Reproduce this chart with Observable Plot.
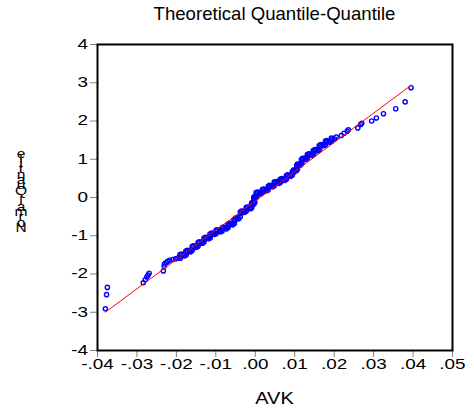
<!DOCTYPE html>
<html><head><meta charset="utf-8">
<script src="https://cdn.jsdelivr.net/npm/d3@7"></script>
<script src="https://cdn.jsdelivr.net/npm/@observablehq/plot@0.6"></script>
<style>
body{margin:0;background:#fff;}
#wrap{position:relative;width:474px;height:412px;font-family:"Liberation Sans",Arial,sans-serif;color:#000;}
#title{position:absolute;left:97px;width:355px;top:4.5px;text-align:center;font-size:18.6px;line-height:18.6px;z-index:2;}
#xlabel{position:absolute;left:97px;width:355px;top:391px;text-align:center;font-size:16px;line-height:16px;transform:scaleX(1.25);z-index:2;}
#wrap svg{position:absolute;left:0;top:0;}
</style></head><body><div id="wrap"></div>
<script>
const title = "Theoretical Quantile-Quantile";
const xLabel = "AVK";
const yLabel = "Normal Quantile";
const xTicks = [-0.04,-0.03,-0.02,-0.01,0,0.01,0.02,0.03,0.04,0.05];
const xTickLabels = ["-.04","-.03","-.02","-.01",".00",".01",".02",".03",".04",".05"];
const yTicks = [-4,-3,-2,-1,0,1,2,3,4];
const yTickLabels = ["-4","-3","-2","-1","0","1","2","3","4"];

// sample quantiles (AVK) and matching normal quantiles: tails and main band
const qx = [-0.0380,-0.0377,-0.0375,-0.0284,-0.0279,-0.0275,-0.0272,-0.0269,-0.0233,-0.0231,-0.0230,-0.0226,-0.0222,-0.0217,-0.0209,-0.0202,-0.0196,
-0.0189,-0.0181,-0.0174,-0.0166,-0.0158,-0.0151,-0.0143,-0.0136,-0.0128,-0.0120,-0.0113,-0.0105,-0.0097,-0.0090,-0.0082,-0.0075,-0.0067,-0.0059,-0.0052,-0.0044,-0.0036,-0.0029,-0.0021,-0.0014,
-0.0008,-0.0005,-0.0002,0.0000,0.0004,0.0012,0.0020,0.0027,0.0035,0.0042,0.0050,0.0058,0.0065,0.0073,0.0081,0.0088,0.0096,0.0102,0.0107,0.0112,
0.0119,0.0126,0.0134,0.0142,0.0149,0.0157,0.0164,0.0172,0.0180,0.0187,0.0195,
0.0201,0.0205,0.0218,0.0225,0.0233,0.0236,0.0260,0.0267,0.0270,0.0295,0.0307,0.0325,0.0356,0.0380,0.0395];
const qy = [-2.91,-2.54,-2.35,-2.23,-2.15,-2.08,-2.03,-1.98,-1.92,-1.80,-1.74,-1.70,-1.67,-1.64,-1.62,-1.60,-1.58,
-1.529,-1.490,-1.438,-1.386,-1.320,-1.268,-1.216,-1.163,-1.098,-1.046,-0.993,-0.928,-0.889,-0.863,-0.824,-0.784,-0.732,-0.680,-0.614,-0.523,-0.418,-0.353,-0.301,-0.261,
-0.209,-0.131,-0.052,0.026,0.092,0.131,0.170,0.209,0.261,0.314,0.366,0.405,0.444,0.484,0.536,0.588,0.641,0.732,0.810,0.876,
0.954,1.033,1.085,1.137,1.190,1.255,1.320,1.386,1.438,1.477,1.516,
1.53,1.58,1.62,1.68,1.73,1.77,1.82,1.91,1.94,2.00,2.08,2.19,2.32,2.50,2.87];

// further points read inside the dense central band (two more passes)
const bandX = [-0.0190,-0.0187,-0.0175,-0.0172,-0.0160,-0.0157,-0.0145,-0.0142,-0.0130,-0.0126,-0.0114,-0.0111,-0.0099,-0.0096,-0.0084,-0.0081,-0.0069,-0.0065,-0.0053,-0.0050,
-0.0038,-0.0035,-0.0023,-0.0020,-0.0009,-0.0009,-0.0001,-0.0003,0.0004,0.0006,0.0018,0.0021,0.0033,0.0036,0.0048,0.0052,0.0064,0.0067,0.0079,0.0082,
0.0094,0.0097,0.0107,0.0107,0.0118,0.0120,0.0132,0.0136,0.0148,0.0151,0.0163,0.0166,0.0178,0.0181,0.0193];
const bandY = [-1.585,-1.480,-1.494,-1.382,-1.383,-1.264,-1.272,-1.160,-1.161,-1.042,-1.050,-0.931,-0.939,-0.846,-0.874,-0.774,-0.788,-0.676,-0.677,-0.539,
-0.501,-0.356,-0.357,-0.251,-0.265,-0.140,-0.122,0.017,0.029,0.142,0.121,0.220,0.205,0.318,0.310,0.416,0.395,0.494,0.480,0.592,
0.585,0.717,0.741,0.873,0.885,1.024,1.029,1.141,1.134,1.253,1.258,1.383,1.382,1.488,1.467];
const band2X = [-0.0191,-0.0179,-0.0176,-0.0164,-0.0160,-0.0149,-0.0145,-0.0134,-0.0130,-0.0118,-0.0115,-0.0103,-0.0099,-0.0088,-0.0084,-0.0073,-0.0069,-0.0057,-0.0054,-0.0042,
-0.0038,-0.0027,-0.0023,-0.0012,-0.0010,-0.0003,-0.0004,0.0002,0.0002,0.0014,0.0018,0.0029,0.0033,0.0044,0.0048,0.0060,0.0063,0.0075,0.0079,0.0090,
0.0094,0.0104,0.0105,0.0114,0.0117,0.0128,0.0132,0.0144,0.0147,0.0159,0.0162,0.0174,0.0178,0.0189,0.0193];
const band2Y = [-1.494,-1.525,-1.403,-1.421,-1.285,-1.303,-1.181,-1.198,-1.063,-1.081,-0.958,-0.963,-0.854,-0.898,-0.789,-0.819,-0.697,-0.715,-0.579,-0.558,
-0.383,-0.388,-0.266,-0.296,-0.174,-0.166,-0.017,-0.009,0.127,0.096,0.205,0.174,0.296,0.279,0.401,0.370,0.479,0.449,0.571,0.553,
0.676,0.697,0.845,0.841,0.989,0.998,1.120,1.102,1.225,1.220,1.355,1.351,1.473,1.442,1.551];

// fitted reference line end points
const lineX = [-0.0380, 0.0396];
const lineY = [-3.00, 2.94];

const points = qx.map((x, i) => ({x, y: qy[i]}))
  .concat(bandX.map((x, i) => ({x, y: bandY[i]})))
  .concat(band2X.map((x, i) => ({x, y: band2Y[i]})));
const fit = lineX.map((x, i) => ({x, y: lineY[i]}));

const chart = Plot.plot({
  width: 474, height: 412,
  marginLeft: 97, marginRight: 22, marginTop: 44, marginBottom: 62,
  style: {fontFamily: '"Liberation Sans", Arial, sans-serif', fontSize: "14px", background: "white"},
  x: {domain: [-0.04, 0.05], label: null},
  y: {domain: [-4, 4], label: null},
  marks: [
    Plot.dot(points, {x: "x", y: "y", r: 2.1, stroke: "#0000ff", strokeWidth: 1.4, fill: "none"}),
    Plot.line(fit, {x: "x", y: "y", stroke: "#ff0000", strokeWidth: 1}),
    Plot.axisX({ticks: xTicks, tickSize: 7, tickPadding: 1.5, tickFormat: d => xTickLabels[xTicks.indexOf(d)], label: null, fontSize: 14, stroke: "#808080", fill: "#000"}),
    Plot.axisY({ticks: yTicks, tickSize: 7, tickPadding: 2.5, tickFormat: d => yTickLabels[yTicks.indexOf(d)], label: null, fontSize: 14, stroke: "#808080", fill: "#000"}),
    Plot.frame({stroke: "#000", strokeWidth: 2})
  ]
});

const wrap = document.getElementById("wrap");
wrap.appendChild(chart);

// horizontally stretch tick labels like the original
const svgns = "http://www.w3.org/2000/svg";
function stretch(text, k) {
  const g = document.createElementNS(svgns, "g");
  let t = text.getAttribute("transform") || "";
  const x = text.getAttribute("x"), y = text.getAttribute("y");
  let tx = 0, ty = 0;
  if (x != null && !isNaN(+x)) { tx = +x; text.removeAttribute("x"); }
  if (y != null && !isNaN(+y)) { ty = +y; text.removeAttribute("y"); }
  g.setAttribute("transform", `${t} translate(${tx},${ty})`);
  text.parentNode.insertBefore(g, text);
  g.appendChild(text);
  text.setAttribute("transform", `scale(${k},1)`);
}
chart.querySelectorAll('g[aria-label="x-axis tick label"] text, g[aria-label="y-axis tick label"] text').forEach(t => stretch(t, 1.35));

// y label: one text element, upright letters stacked bottom-to-top
const chars = Array.from(yLabel);
const step = 5.32, baseY = 232, cx = 21;
const yg = document.createElementNS(svgns, "g");
yg.setAttribute("transform", `translate(${cx},0) scale(1.3,1)`);
const yl = document.createElementNS(svgns, "text");
yl.setAttribute("x", chars.map(() => 0).join(" "));
yl.setAttribute("y", chars.map((c, i) => (baseY - i * step).toFixed(2)).join(" "));
yl.setAttribute("text-anchor", "middle");
yl.setAttribute("font-size", "12");
yl.setAttribute("fill", "#000");
yl.setAttribute("font-family", '"Liberation Sans", Arial, sans-serif');
yl.setAttribute("xml:space", "preserve");
yl.style.whiteSpace = "pre";
yl.textContent = yLabel;
yg.appendChild(yl);
chart.appendChild(yg);

const td = document.createElement("div"); td.id = "title"; td.textContent = title; wrap.appendChild(td);
const xd = document.createElement("div"); xd.id = "xlabel"; xd.textContent = xLabel; wrap.appendChild(xd);
</script>
</body></html>
